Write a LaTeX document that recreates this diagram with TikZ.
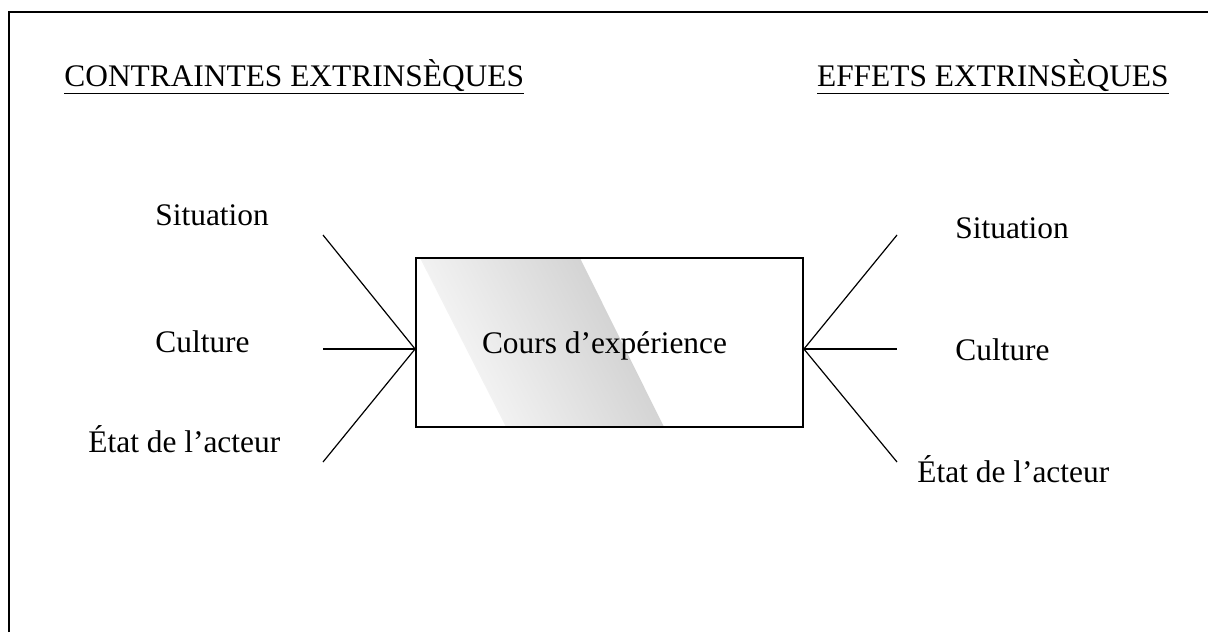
\documentclass[tikz,border=0pt]{standalone}
\usepackage{fontspec}
\setmainfont{Liberation Serif}
\usepackage{tikz}

\begin{document}
\begin{tikzpicture}[x=0.5pt,y=-0.5pt,
  heading/.style={inner sep=0pt, font=\fontsize{15.7}{18}\selectfont},
  factor/.style={inner sep=0pt, anchor=base west, font=\fontsize{15.7}{18}\selectfont},
  spoke/.style={line width=0.6pt}]
\useasboundingbox (0,0) rectangle (1208,632);

% cadre
\draw [line width=1pt] (9,632) -- (9,12) -- (1208,12);

\node (contraintes) at (64,86) [heading, anchor=base west] {\underline{CONTRAINTES EXTRINSÈQUES}};
\node (effets) at (1169,86) [heading, anchor=base east] {\underline{EFFETS EXTRINSÈQUES}};

% bande grise du cadre central
\shade [left color=black!2, right color=black!20, shading angle=117] (420,258) -- (580,258) -- (664,427) -- (506,427) -- cycle;
\node (cours) at (609.5,342.5) [draw, line width=0.9pt, minimum width=193.5pt, minimum height=84.5pt, inner sep=0pt] {};
\node (coursTxt) at (604.5,353) [heading, anchor=base] {Cours d’expérience};

\node (sitL) at (155,225) [factor] {Situation};
\node (culL) at (155,352) [factor] {Culture};
\node (etatL) at (88,452) [factor] {État de l’acteur};

\node (sitR) at (955,238) [factor] {Situation};
\node (culR) at (955,360) [factor] {Culture};
\node (etatR) at (917,482) [factor] {État de l’acteur};

\coordinate (inA) at (323,235);
\coordinate (inB) at (323,349);
\coordinate (inC) at (323,462);
\coordinate (outA) at (897,235);
\coordinate (outB) at (897,349);
\coordinate (outC) at (897,462);
\coordinate (hubL) at (cours.west |- inB);
\coordinate (hubR) at (cours.east |- outB);

\draw [spoke] (inA) -- (hubL);
\draw [spoke] (inB) -- (hubL);
\draw [spoke] (inC) -- (hubL);
\draw [spoke] (hubR) -- (outA);
\draw [spoke] (hubR) -- (outB);
\draw [spoke] (hubR) -- (outC);
\end{tikzpicture}
\end{document}
